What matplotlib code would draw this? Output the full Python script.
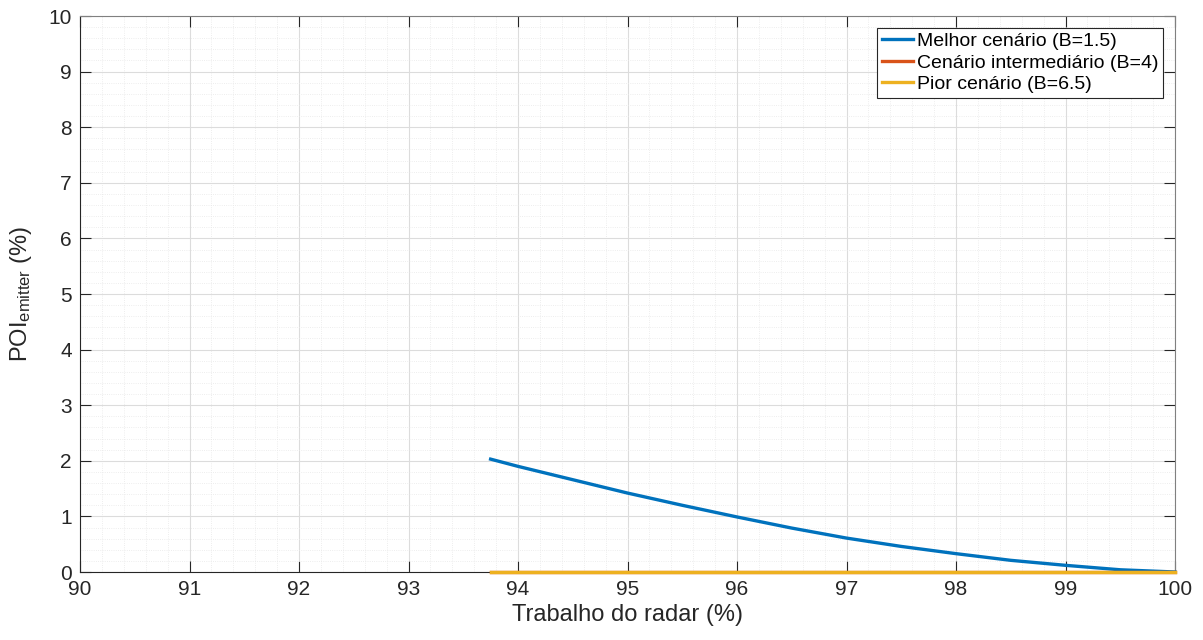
import numpy as np
import matplotlib
matplotlib.use("Agg")
import matplotlib.pyplot as plt
from matplotlib.ticker import MultipleLocator

plt.rcParams['font.family'] = ['Liberation Sans', 'DejaVu Sans']
plt.rcParams['mathtext.fontset'] = 'custom'
plt.rcParams['mathtext.rm'] = 'Liberation Sans'
plt.rcParams['mathtext.it'] = 'Liberation Sans'

# values
trabalho = [93.75, 94.0, 94.5, 95.0, 95.5, 96.0, 96.5, 97.0, 97.5, 98.0, 98.5, 99.0, 99.5, 100.0]
melhor = [2.03, 1.90, 1.66, 1.42, 1.20, 0.99, 0.79, 0.61, 0.46, 0.33, 0.21, 0.12, 0.04, 0.0]
intermediario = [0.0] * len(trabalho)
pior = [0.0] * len(trabalho)

labels = ["Melhor cenário (B=1.5)", "Cenário intermediário (B=4)", "Pior cenário (B=6.5)"]
colours = ['#0072BD', '#D95319', '#EDB120']

fig = plt.figure(figsize=(12.03, 6.40), dpi=100)
ax = fig.add_axes([80/1203, 1-572/640, 1095/1203, 556/640])

for yv, lab, c in zip([melhor, intermediario, pior], labels, colours):
    ax.plot(trabalho, yv, label=lab, color=c, linewidth=2.4, clip_on=False, zorder=3)

ax.set_xlim(90, 100)
ax.set_ylim(0, 10)
ax.xaxis.set_major_locator(MultipleLocator(1))
ax.yaxis.set_major_locator(MultipleLocator(1))
ax.xaxis.set_minor_locator(MultipleLocator(0.2))
ax.yaxis.set_minor_locator(MultipleLocator(0.2))
ax.grid(which='major', color='#dcdcdc', linewidth=0.8)
ax.grid(which='minor', color='#e8e8e8', linewidth=0.6, linestyle=':')
ax.set_axisbelow(True)

ax.tick_params(which='major', direction='in', length=8, width=0.8, colors='#262626',
               top=True, right=True, labelsize=15, pad=6)
ax.tick_params(which='minor', length=0, top=True, right=True)
for s in ['left', 'bottom']:
    ax.spines[s].set_color('#262626')
for s in ['top', 'right']:
    ax.spines[s].set_color('#808080')

ax.set_xlabel("Trabalho do radar (%)", fontsize=17, color='#262626', labelpad=3)
ax.set_ylabel(r"POI$_{\mathrm{emitter}}$ (%)", fontsize=17, color='#262626', labelpad=10)

leg = ax.legend(loc='upper right', fontsize=14, fancybox=False, framealpha=1,
                edgecolor='#262626', handlelength=1.6, handletextpad=0.2,
                borderaxespad=0.6, labelspacing=0.2, borderpad=0.25)
leg.get_frame().set_linewidth(0.8)

fig.savefig("out.png", dpi=100)
